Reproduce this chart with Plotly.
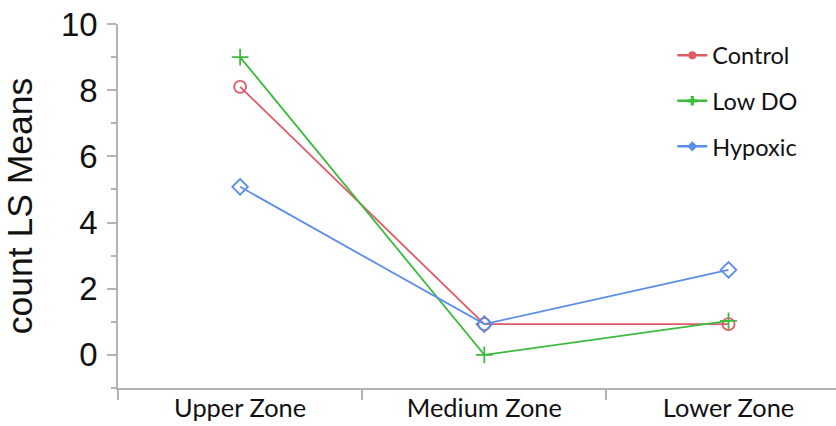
import plotly.graph_objects as go

zones = ["Upper Zone", "Medium Zone", "Lower Zone"]
control = [8.1, 0.93, 0.93]
low_do = [9.0, 0.0, 1.03]
hypoxic = [5.08, 0.93, 2.57]

series = [
    ("Control", control, "#e05a68", "circle-open", "circle"),
    ("Low DO", low_do, "#3dbb3d", "cross-thin-open", "cross"),
    ("Hypoxic", hypoxic, "#5a8ee8", "diamond-open", "diamond"),
]

fig = go.Figure()
for i, (name, vals, col, sym, lsym) in enumerate(series):
    fig.add_trace(go.Scatter(
        x=zones, y=vals, mode="lines+markers", name=name,
        line=dict(color=col, width=1.8),
        marker=dict(symbol=sym, size=12, color=col, line=dict(width=1.8, color=col)),
        showlegend=False,
    ))
    fig.add_trace(go.Scatter(
        x=[None], y=[None], mode="lines+markers", name=name,
        line=dict(color=col, width=2.5),
        marker=dict(symbol=lsym, size=8, color=col),
        legendgroup=name,
    ))

axis_col = "#b3b3b3"
fig.update_layout(
    width=836, height=426,
    margin=dict(l=118, r=0, t=24, b=38, autoexpand=False),
    paper_bgcolor="white", plot_bgcolor="white",
    showlegend=True,
    legend=dict(
        x=0.772, y=0.974, xanchor="left", yanchor="top",
        font=dict(family="Lato", size=23.5, color="#111"),
        tracegroupgap=12, itemwidth=30, bgcolor="rgba(0,0,0,0)",
    ),
    xaxis=dict(
        type="category", categoryorder="array", categoryarray=zones,
        range=[-0.5, 2.44], showgrid=False, zeroline=False, automargin=False,
        showline=True, linecolor=axis_col, linewidth=1.5,
        ticks="outside", tickson="boundaries", ticklen=10, tickcolor=axis_col, tickwidth=1.5,
        ticklabelstandoff=-3,
        tickfont=dict(family="Lato", size=25.4, color="#111"),
    ),
    yaxis=dict(
        range=[-1, 10], dtick=2, tick0=0, showgrid=False, zeroline=False, automargin=False,
        showline=True, linecolor=axis_col, linewidth=1.5,
        ticks="outside", ticklen=9, tickcolor=axis_col, tickwidth=1.5,
        ticklabelstandoff=3, ticklabeloverflow="allow",
        minor=dict(ticks="outside", ticklen=5, dtick=1, tickcolor=axis_col, tickwidth=1.5),
        tickfont=dict(family="Liberation Sans", size=33, color="#111"),
        title=dict(text="count LS Means", font=dict(family="Liberation Sans", size=35.5, color="#111"), standoff=19),
    ),
)

fig.write_html("out.html", config={"displayModeBar": False},
               post_script="document.body.style.margin='0';")
